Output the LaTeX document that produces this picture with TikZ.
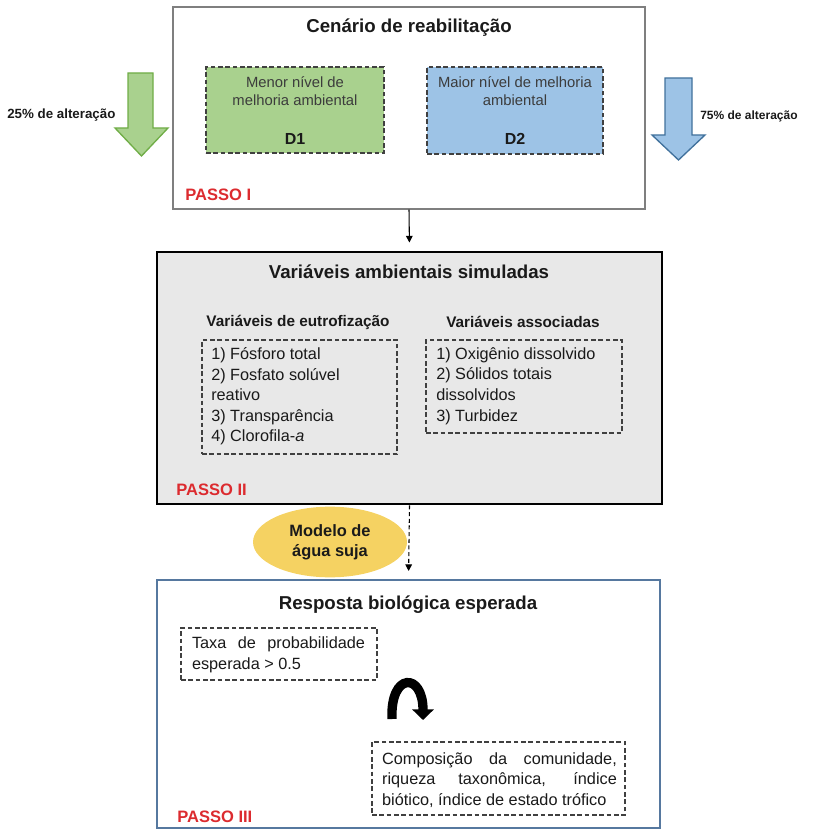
\documentclass[tikz,border=0pt]{standalone}
\usepackage{fontspec}
\setmainfont{Liberation Sans}
\usepackage{tikz}
\usetikzlibrary{arrows.meta,calc,positioning,fit,shapes.geometric}
\definecolor{verde}{HTML}{A9D18E}
\definecolor{verdeesc}{HTML}{70AD47}
\definecolor{azul}{HTML}{9DC3E6}
\definecolor{azulesc}{HTML}{41719C}
\definecolor{vermelho}{HTML}{DC2B2F}
\definecolor{cinza}{HTML}{E8E8E8}
\definecolor{borda}{HTML}{7F7F7F}
\definecolor{tinta}{HTML}{1A1A1A}
\definecolor{amarelo}{HTML}{F5D262}
\definecolor{azulborda}{HTML}{56789F}
\definecolor{tracejado}{HTML}{404040}
\hyphenpenalty=10000
\tikzset{
  caixa/.style={draw=borda,line width=0.9pt,inner sep=0pt},
  caixacinza/.style={draw=black,fill=cinza,line width=2.2pt,inner sep=0pt},
  caixaazul/.style={draw=azulborda,fill=white,line width=1.5pt,inner sep=0pt},
  tracejada/.style={draw=tracejado,line width=1pt,dash pattern=on 3.5pt off 2pt,inner sep=0pt},
  titulo/.style={font=\bfseries\fontsize{14}{17}\selectfont,text=tinta,inner sep=0pt},
  subtitulo/.style={font=\bfseries\fontsize{11.5}{14}\selectfont,text=tinta,inner sep=0pt},
  corpo/.style={font=\fontsize{12.2}{15.4}\selectfont,text=tinta,inner sep=0pt},
  corpod/.style={font=\fontsize{11.1}{13.6}\selectfont,text=tinta!85,inner sep=0pt,align=center},
  rotulo/.style={font=\bfseries\fontsize{12}{14}\selectfont,text=tinta,inner sep=0pt},
  passo/.style={font=\bfseries\fontsize{12.4}{14}\selectfont,text=vermelho,inner sep=0pt,anchor=west},
  alteracao/.style={font=\bfseries\fontsize{10}{12}\selectfont,text=tinta,inner sep=0pt,anchor=west},
  setagrande/.style={line width=1pt,line join=miter},
  elipse/.style={ellipse,fill=amarelo,draw=none,minimum width=115.5pt,minimum height=53pt,align=center,
    font=\bfseries\fontsize{12.3}{15}\selectfont,text=tinta,inner sep=0pt},
  seta/.style={draw=black,line width=0.8pt,-{Triangle[length=5pt,width=5pt]}},
  setatrac/.style={seta,dash pattern=on 3pt off 2pt},
  curva/.style={draw=black,line width=7pt,-{Triangle[length=8pt,width=16pt]}},
}

\begin{document}
\begin{tikzpicture}[x=0.75pt,y=-0.75pt]
\useasboundingbox (0,0) rectangle (814,830);

\node[caixa,fit={(173,7) (645,209)}] (passoi) {};
\node[titulo] (cenario) at (409,28) {Cenário de reabilitação};
\node[tracejada,fill=verde,fit={(206,67) (384,153)}] (d1) {};
\node[tracejada,fill=azul,fit={(427,67) (603,154)}] (d2) {};
\node[corpod] (d1texto) at (295,91) {Menor nível de\\melhoria ambiental};
\node[corpod] (d2texto) at (515,91) {Maior nível de melhoria\\ambiental};
\node[rotulo] (d1nome) at (295,139) {D1};
\node[rotulo] (d2nome) at (515,139) {D2};
\node[passo] (passoinome) at (185,195) {PASSO I};

\draw[setagrande,fill=verde,draw=verdeesc] (128,73) -- (153,73) -- (153,128) -- (168,128)
  -- (141.5,156) -- (115,128) -- (128,128) -- cycle;
\draw[setagrande,fill=azul,draw=azulesc] (665,78) -- (692,78) -- (692,135) -- (705,135)
  -- (678.5,160) -- (652,135) -- (665,135) -- cycle;
\node[alteracao] (alt25) at (7,115) {25\% de alteração};
\node[alteracao,font=\bfseries\fontsize{9}{11}\selectfont] (alt75) at (700,116) {75\% de alteração};

\node[caixacinza,fit={(157,252) (662,504)}] (passoii) {};
\node[titulo] (variaveis) at (409,272) {Variáveis ambientais simuladas};
\node[subtitulo] (eutrof) at (298,322) {Variáveis de eutrofização};
\node[subtitulo] (assoc) at (523,322) {Variáveis associadas};
\node[tracejada,fit={(202,340) (397,454)}] (listaeutrof) {};
\node[tracejada,fit={(426,340) (622,433)}] (listaassoc) {};
\node[corpo,anchor=west,align=left] (itenseutrof) at (211,396.5)
  {1) Fósforo total\\2) Fosfato solúvel\\reativo\\3) Transparência\\4) Clorofila-\textit{a}};
\node[corpo,anchor=west,align=left] (itensassoc) at (436,386)
  {1) Oxigênio dissolvido\\2) Sólidos totais\\dissolvidos\\3) Turbidez};
\node[passo] (passoiinome) at (176,490) {PASSO II};

\node[elipse] (modelo) at (330,542) {Modelo de\\água suja};

\node[caixaazul,fit={(157,580) (660,828)}] (passoiii) {};
\node[titulo] (resposta) at (408,605) {Resposta biológica esperada};
\node[tracejada,fit={(181,628) (377,680)}] (taxa) {};
\node[tracejada,fit={(372,742) (625,815)}] (comp) {};
\node[corpo,text width=129.75pt,align=justify] (taxatexto) at (278.5,655)
  {Taxa de probabilidade esperada > 0.5};
\node[corpo,text width=176pt,align=justify] (comptexto) at (499.5,780)
  {Composição da comunidade, riqueza taxonômica, índice biótico, índice de estado trófico};
\node[passo] (passoiiinome) at (177,817) {PASSO III};

\coordinate (curvaini) at (392,719);
\coordinate (curvafim) at (423,720);
\draw[curva] (curvaini) .. controls (390,672) and (423,672) .. (curvafim);

\draw[seta,shorten >=6pt] (passoi.south) -- (passoii.north);
\draw[setatrac,shorten >=6pt] (passoii.south) -- (passoiii.north);
\end{tikzpicture}
\end{document}
